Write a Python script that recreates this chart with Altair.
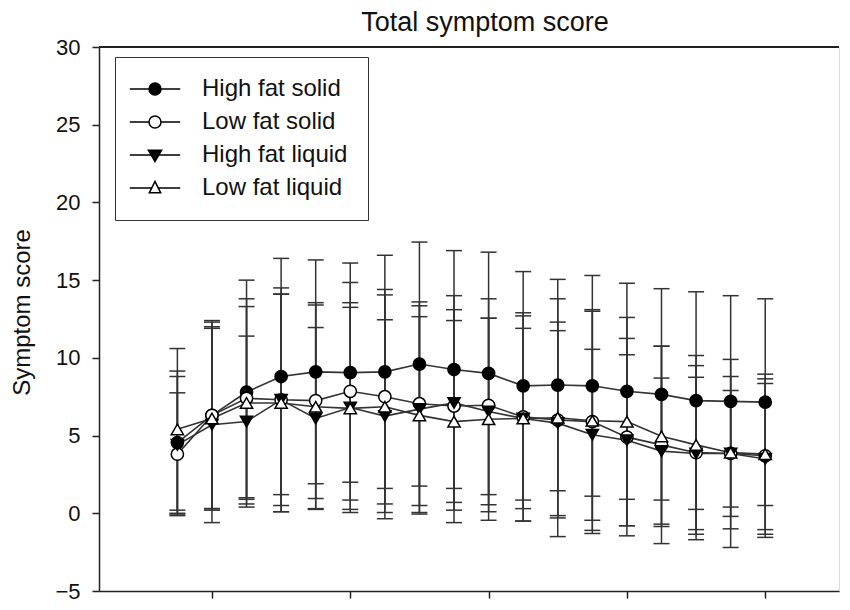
import altair as alt
import pandas as pd

# ---------------- data ----------------
times = [-15, 0, 15, 30, 45, 60, 75, 90, 105, 120, 135, 150, 165, 180, 195, 210, 225, 240]
series_names = ["High fat solid", "Low fat solid", "High fat liquid", "Low fat liquid"]

hfs_mean = [4.55, 6.3, 7.8, 8.8, 9.1, 9.05, 9.1, 9.6, 9.25, 9.0, 8.2, 8.25, 8.2, 7.85, 7.65, 7.25, 7.2, 7.15]
hfs_sd = [4.6, 6.1, 7.2, 7.6, 7.2, 7.05, 7.5, 7.85, 7.65, 7.8, 7.35, 6.8, 7.1, 6.95, 6.8, 7.0, 6.8, 6.65]

lfs_mean = [3.8, 6.3, 7.4, 7.3, 7.25, 7.85, 7.5, 7.05, 6.9, 6.95, 6.2, 6.0, 5.9, 4.9, 4.4, 3.9, 3.85, 3.7]
lfs_sd = [3.95, 6.0, 6.4, 7.2, 6.3, 7.0, 6.9, 6.55, 6.2, 6.85, 6.7, 6.3, 7.2, 6.35, 6.35, 5.6, 6.05, 5.25]

hfl_mean = [4.4, 5.7, 5.9, 7.3, 6.1, 6.8, 6.25, 6.7, 7.1, 6.55, 6.1, 5.8, 5.05, 4.7, 4.0, 3.85, 3.85, 3.5]
hfl_sd = [4.4, 6.3, 5.5, 6.8, 5.85, 6.75, 6.2, 6.65, 6.9, 6.0, 6.6, 5.95, 5.5, 5.5, 4.7, 4.9, 4.05, 4.85]

lfl_mean = [5.4, 6.1, 7.1, 7.1, 6.85, 6.75, 6.85, 6.3, 5.9, 6.05, 6.1, 6.15, 5.95, 5.9, 4.95, 4.4, 3.9, 3.8]
lfl_sd = [5.2, 5.8, 6.2, 7.0, 6.55, 6.5, 7.2, 6.35, 6.5, 6.5, 5.8, 7.65, 7.05, 6.7, 5.8, 5.75, 4.9, 4.85]

x_ticks = [0, 60, 120, 180, 240]
y_ticks = [-5, 0, 5, 10, 15, 20, 25, 30]
chart_title = "Total symptom score"

# ---------------- table ----------------
rows = []
for name, means, sds in zip(series_names,
                            [hfs_mean, lfs_mean, hfl_mean, lfl_mean],
                            [hfs_sd, lfs_sd, hfl_sd, lfl_sd]):
    for t, m, s in zip(times, means, sds):
        rows.append({"series": name, "time": t, "mean": m, "lo": m - s, "hi": m + s})
df = pd.DataFrame(rows)
legend_df = df[df["time"] == times[0]]
title_df = pd.DataFrame({"label": [chart_title]})

FONT = "Liberation Sans"
AX = "#222222"
W, H = 740, 544

xenc = alt.X("time:Q",
             scale=alt.Scale(domain=[-49, 272], nice=False, zero=False),
             axis=alt.Axis(values=x_ticks, labels=False, title=None, grid=False,
                           tickSize=7, tickColor=AX, tickWidth=1.5,
                           domainColor=AX, domainWidth=1.5))


def yenc(field):
    return alt.Y(f"{field}:Q",
                 scale=alt.Scale(domain=[-5, 30], nice=False, zero=False),
                 axis=alt.Axis(values=y_ticks, title="Symptom score", grid=False,
                               tickSize=7, tickColor=AX, tickWidth=1.5,
                               domainColor=AX, domainWidth=1.5,
                               labelFont=FONT, labelFontSize=22, labelColor="#111",
                               labelPadding=12,
                               titleFont=FONT, titleFontSize=24, titleFontWeight="normal",
                               titleColor="#111", titleX=-65, titleY=265,
                               titleAngle=-90, titleBaseline="bottom"))


shape_scale = alt.Scale(domain=series_names,
                        range=["circle", "circle", "triangle-down", "triangle-up"])
fill_scale = alt.Scale(domain=series_names, range=["black", "white", "black", "white"])

legend_paths = [
    "M-4.2,0L-1,0M1,0L4.2,0M1,0A1,1,0,1,1,-1,0A1,1,0,1,1,1,0Z",
    "M-4.2,0L-1,0M1,0L4.2,0M1,0A1,1,0,1,1,-1,0A1,1,0,1,1,1,0Z",
    "M-4.2,0L-0.65,0M0.65,0L4.2,0M-1.1,-0.8L1.1,-0.8L0,1.1Z",
    "M-4.2,0L-0.55,0M0.55,0L4.2,0M-0.95,0.8L0.95,0.8L0,-1.1Z",
]

base = alt.Chart(df)

bars = base.mark_rule(color="#333", strokeWidth=1.5).encode(
    x=xenc, y=yenc("lo"), y2="hi:Q", detail="series:N")
cap_lo = base.mark_tick(orient="horizontal", size=16, thickness=1.5, color="#333",
                        opacity=1).encode(x=xenc, y=yenc("lo"), detail="series:N")
cap_hi = base.mark_tick(orient="horizontal", size=16, thickness=1.5, color="#333",
                        opacity=1).encode(x=xenc, y=yenc("hi"), detail="series:N")
lines = base.mark_line(color="#333", strokeWidth=1.6).encode(
    x=xenc, y=yenc("mean"), detail="series:N")
points = base.mark_point(filled=True, size=150, stroke="black", strokeWidth=1.5,
                         opacity=1).encode(
    x=xenc, y=yenc("mean"),
    shape=alt.Shape("series:N", scale=shape_scale, legend=None),
    fill=alt.Fill("series:N", scale=fill_scale, legend=None))

top_line = alt.Chart(df).mark_rule(color=AX, strokeWidth=1.5).encode(
    y=alt.YDatum(30), x=alt.value(0), x2=alt.value(W))

title_text = alt.Chart(title_df).mark_text(
    font=FONT, fontSize=27, color="#111", align="center", baseline="alphabetic"
).encode(text="label:N", x=alt.value(386), y=alt.value(-16))

legend_props = dict(title=None, orient="none", legendX=16, legendY=10,
                    padding=20, rowPadding=9, symbolSize=144,
                    symbolOffset=8, labelOffset=35,
                    symbolStrokeColor="black", symbolStrokeWidth=1.5,
                    symbolOpacity=1,
                    labelFont=FONT, labelFontSize=24, labelColor="#111",
                    labelLimit=400, strokeColor="#333")

legend_layer = alt.Chart(legend_df).mark_point(
    filled=True, size=144, opacity=0, strokeWidth=1.5).encode(
    x=xenc, y=yenc("mean"),
    shape=alt.Shape("series:N",
                    scale=alt.Scale(domain=series_names, range=legend_paths),
                    legend=alt.Legend(**legend_props)),
    fill=alt.Fill("series:N",
                  scale=alt.Scale(domain=series_names,
                                  range=["black", "white", "black", "white"]),
                  legend=alt.Legend(**legend_props)),
    stroke=alt.Stroke("series:N",
                      scale=alt.Scale(domain=series_names,
                                      range=["black", "black", "black", "black"]),
                      legend=alt.Legend(**legend_props)))

chart = alt.layer(bars, cap_lo, cap_hi, lines, points, top_line, title_text,
                  legend_layer).resolve_scale(
    shape="independent", fill="independent", stroke="independent"
).properties(
    width=W, height=H,
    autosize=alt.AutoSizeParams(type="none"),
    padding={"left": 91, "top": 39, "right": 3, "bottom": 11},
).configure_view(stroke=None).configure_legend(strokeWidth=1.5).configure(background="white")

chart.save("out.html", embed_options={"renderer": "svg", "actions": False})
